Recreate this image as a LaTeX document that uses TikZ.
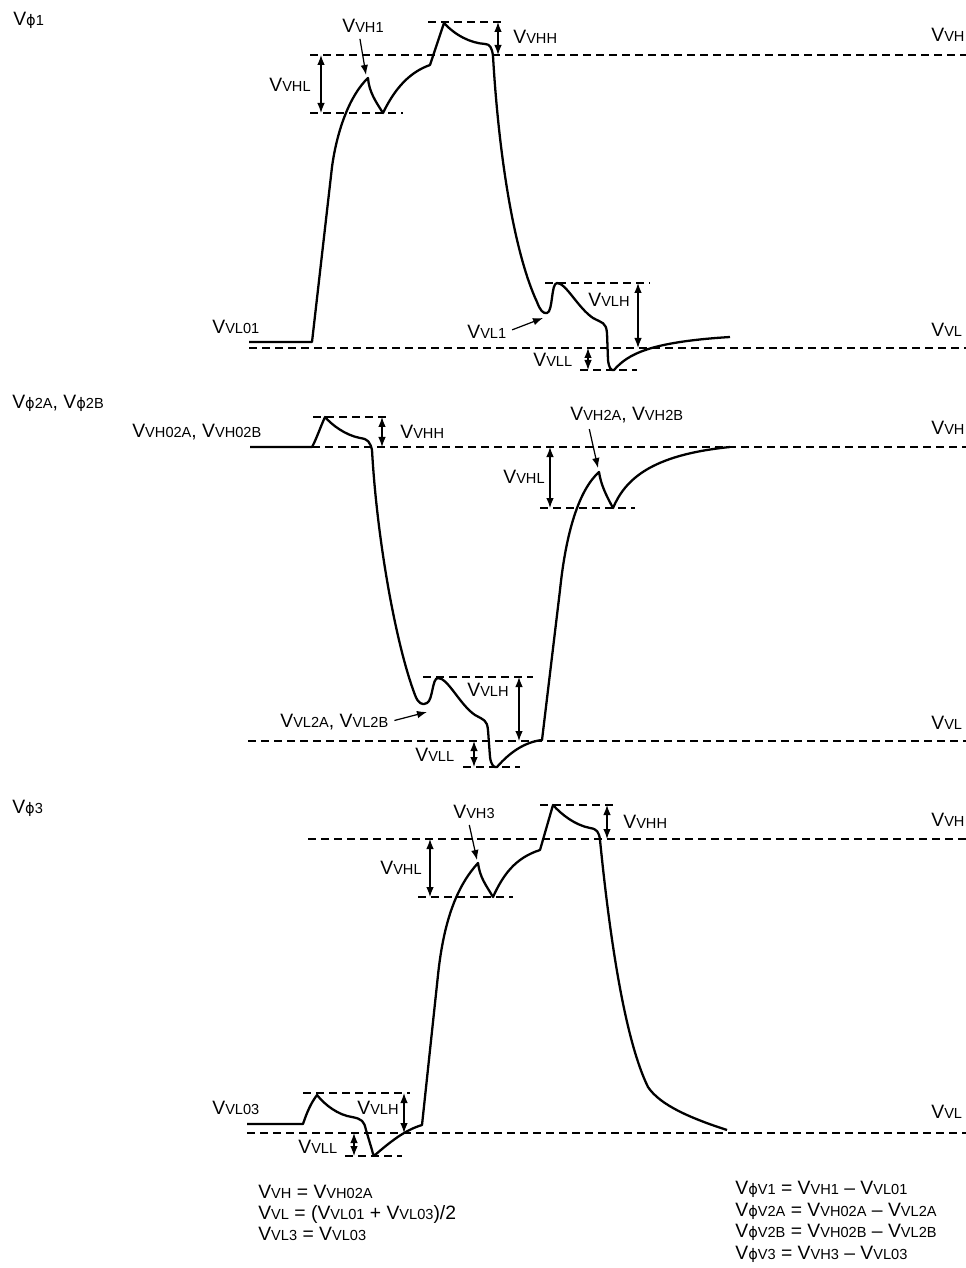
\documentclass[tikz,border=0pt]{standalone}
\usepackage{fontspec}
\setmainfont{Liberation Sans}
\newfontfamily\phifont{DejaVu Sans}
\usepackage{tikz}
\usetikzlibrary{arrows.meta}

\newcommand{\sm}[1]{{\fontsize{8.3}{9}\selectfont #1}}
\newcommand{\vv}[1]{V\sm{#1}}
\newcommand{\vphi}[1]{V\sm{\phifont ϕ}\sm{#1}}

\begin{document}
\begin{tikzpicture}[x=0.2mm, y=-0.2mm,
  wave/.style={line width=1.3pt, line join=round},
  guide/.style={line width=0.6pt, dash pattern=on 1.6mm off 1mm},
  dim/.style={line width=0.7pt, {Latex[length=2mm,width=1.5mm]}-{Latex[length=2mm,width=1.5mm]}},
  ptr/.style={line width=0.7pt, -{Latex[length=2mm,width=1.5mm]}, shorten <=1.2mm},
  lbl/.style={anchor=west, inner sep=0pt, font=\fontsize{11}{13}\selectfont}]
  \useasboundingbox (0,0) rectangle (966,1268);

  % phi 1
  \draw[guide] (310,55) -- (966,55);
  \draw[guide] (428,22) -- (503,22);
  \draw[guide] (310,113) -- (403,113);
  \draw[guide] (249,348) -- (966,348);
  \draw[guide] (545,283) -- (650,283);
  \draw[guide] (580,370) -- (637,370);
  \draw[dim] (321,55) -- (321,113);
  \draw[dim] (498,22) -- (498,55);
  \draw[dim] (638,283) -- (638,348);
  \draw[dim] (588,348) -- (588,370);
  \draw[wave] (249,342) -- (312,342) -- (332,167) .. controls (337,130) and (350,95) .. (368,78)
    .. controls (369,92) and (376,102) .. (383,113) .. controls (395,88) and (410,72) .. (430,65)
    -- (444,23) .. controls (455,35) and (470,43) .. (485,44) .. controls (490,44) and (492,48) .. (493,56)
    .. controls (499,160) and (515,255) .. (537,302) .. controls (540,310) and (543,314) .. (547,313)
    .. controls (553,312) and (551,283) .. (557,283) .. controls (566,283) and (578,308) .. (593,318)
    .. controls (602,323) and (606,322) .. (607,333) -- (608,360) .. controls (609,368) and (611,371) .. (614,370)
    .. controls (628,354) and (650,342) .. (730,337);
  \node[lbl] (phi1) at (13,20) {\vphi{1}};
  \node[lbl] (vh1) at (342,26) {\vv{VH1}};
  \node[lbl] (vhl1) at (269,85) {\vv{VHL}};
  \node[lbl] (vhh1) at (513,37) {\vv{VHH}};
  \node[lbl] (vhr1) at (931,35) {\vv{VH}};
  \node[lbl] (vl01) at (212,327) {\vv{VL01}};
  \node[lbl] (vl1) at (467,332) {\vv{VL1}};
  \node[lbl] (vlh1) at (588,300) {\vv{VLH}};
  \node[lbl] (vll1) at (533,360) {\vv{VLL}};
  \node[lbl] (vlr1) at (931,330) {\vv{VL}};
  \coordinate (vh1tip) at (366,75);
  \coordinate (vl1tip) at (543,318);
  \draw[ptr] ([xshift=-0.8mm]vh1.south) -- (vh1tip);
  \draw[ptr] (vl1.east) -- (vl1tip);

  % phi 2A, 2B
  \draw[guide] (312,447) -- (966,447);
  \draw[guide] (313,417) -- (387,417);
  \draw[guide] (540,508) -- (635,508);
  \draw[guide] (248,741) -- (966,741);
  \draw[guide] (423,677) -- (533,677);
  \draw[guide] (463,767) -- (520,767);
  \draw[dim] (382,417) -- (382,447);
  \draw[dim] (550,447) -- (550,508);
  \draw[dim] (519,677) -- (519,741);
  \draw[dim] (474,741) -- (474,767);
  \draw[wave] (250,447) -- (312,447) .. controls (316,440) and (320,428) .. (325,417)
    .. controls (332,425) and (345,435) .. (360,438) .. controls (368,439) and (370,442) .. (372,450)
    .. controls (377,540) and (396,645) .. (415,695) .. controls (418,703) and (422,706) .. (427,703)
    .. controls (433,700) and (432,678) .. (438,678) .. controls (448,678) and (460,705) .. (475,715)
    .. controls (484,720) and (487,720) .. (488,730) -- (490,757) .. controls (491,765) and (494,768) .. (497,767)
    .. controls (510,752) and (525,742) .. (542,740) -- (560,590) .. controls (566,532) and (579,490) .. (599,472)
    .. controls (601,485) and (606,495) .. (613,508) .. controls (625,480) and (650,455) .. (730,447);
  \node[lbl] (phi2) at (12,403) {\vphi{2A}, \vphi{2B}};
  \node[lbl] (vh02) at (132,432) {\vv{VH02A}, \vv{VH02B}};
  \node[lbl] (vhh2) at (400,432) {\vv{VHH}};
  \node[lbl] (vh2) at (570,415) {\vv{VH2A}, \vv{VH2B}};
  \node[lbl] (vhl2) at (503,477) {\vv{VHL}};
  \node[lbl] (vhr2) at (931,428) {\vv{VH}};
  \node[lbl] (vlh2) at (467,690) {\vv{VLH}};
  \node[lbl] (vl2) at (280,722) {\vv{VL2A}, \vv{VL2B}};
  \node[lbl] (vll2) at (415,755) {\vv{VLL}};
  \node[lbl] (vlr2) at (931,723) {\vv{VL}};
  \coordinate (vh2tip) at (598,468);
  \coordinate (vl2tip) at (427,712);
  \draw[ptr] ([xshift=3.6mm]vh2.south west) -- (vh2tip);
  \draw[ptr] (vl2.east) -- (vl2tip);

  % phi 3
  \draw[guide] (308,839) -- (966,839);
  \draw[guide] (540,805) -- (613,805);
  \draw[guide] (418,897) -- (513,897);
  \draw[guide] (247,1133) -- (966,1133);
  \draw[guide] (303,1093) -- (410,1093);
  \draw[guide] (345,1156) -- (402,1156);
  \draw[dim] (607,805) -- (607,839);
  \draw[dim] (430,839) -- (430,897);
  \draw[dim] (404,1093) -- (404,1133);
  \draw[dim] (354,1133) -- (354,1156);
  \draw[wave] (247,1124) -- (303,1124) .. controls (307,1112) and (311,1103) .. (317,1095)
    .. controls (325,1105) and (338,1115) .. (352,1117) .. controls (362,1119) and (364,1121) .. (366,1130)
    -- (372,1150) .. controls (373,1155) and (374,1156) .. (375,1155) .. controls (390,1142) and (405,1130) .. (422,1125)
    -- (438,975) .. controls (444,918) and (458,885) .. (478,863) .. controls (480,878) and (486,885) .. (493,897)
    .. controls (503,875) and (515,858) .. (540,850) -- (553,805) .. controls (562,815) and (575,825) .. (590,828)
    .. controls (597,829) and (599,832) .. (600,840) .. controls (610,940) and (625,1040) .. (648,1087)
    .. controls (660,1105) and (690,1118) .. (727,1130);
  \node[lbl] (phi3) at (12,808) {\vphi{3}};
  \node[lbl] (vh3) at (453,812) {\vv{VH3}};
  \node[lbl] (vhh3) at (623,822) {\vv{VHH}};
  \node[lbl] (vhl3) at (380,868) {\vv{VHL}};
  \node[lbl] (vhr3) at (931,820) {\vv{VH}};
  \node[lbl] (vl03) at (212,1108) {\vv{VL03}};
  \node[lbl] (vlh3) at (357,1108) {\vv{VLH}};
  \node[lbl] (vll3) at (298,1147) {\vv{VLL}};
  \node[lbl] (vlr3) at (931,1112) {\vv{VL}};
  \coordinate (vh3tip) at (477,860);
  \draw[ptr] ([xshift=-1.2mm]vh3.south) -- (vh3tip);

  % relations
  \node[lbl, align=left, font=\fontsize{11}{12}\selectfont] (eqleft) at (258,1213)
    {\vv{VH} = \vv{VH02A}\\ \vv{VL} = (\vv{VL01} + \vv{VL03})/2\\ \vv{VL3} = \vv{VL03}};
  \node[lbl, align=left, font=\fontsize{11}{12.3}\selectfont] (eqright) at (735,1222)
    {\vphi{V1} = \vv{VH1} – \vv{VL01}\\ \vphi{V2A} = \vv{VH02A} – \vv{VL2A}\\
     \vphi{V2B} = \vv{VH02B} – \vv{VL2B}\\ \vphi{V3} = \vv{VH3} – \vv{VL03}};
\end{tikzpicture}
\end{document}
